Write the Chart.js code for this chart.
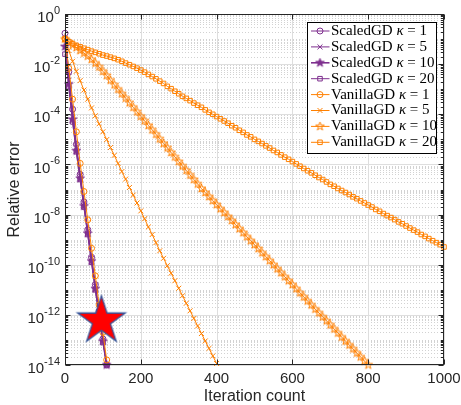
<!DOCTYPE html>
<html>
<head>
<meta charset="utf-8">
<script src="https://cdn.jsdelivr.net/npm/chart.js@4.4.1/dist/chart.umd.min.js"></script>
<style>
  html, body { margin: 0; padding: 0; background: #fff; }
  #wrap { width: 461px; height: 405px; }
</style>
</head>
<body>
<div id="wrap"><canvas id="chart" width="461" height="405"></canvas></div>
<script>
// sampled every 10 iterations (one marker per sample)
const ITER_STEP = 10;
const xTicks = [0, 200, 400, 600, 800, 1000];
const yTickExps = [0, -2, -4, -6, -8, -10, -12, -14];

const scaledK1 = [1.7e-1, 5.0e-3, 1.6e-4, 6.3e-6, 4.0e-7, 3.2e-8, 2.5e-9, 2.0e-10, 1.6e-11, 1.4e-12, 1.1e-13, 1.0e-14];
const scaledK5 = [1.0e-1, 3.2e-3, 1.1e-4, 5.0e-6, 3.5e-7, 2.8e-8, 2.2e-9, 1.8e-10, 1.4e-11, 1.26e-12, 1.0e-13, 1.0e-14];
const scaledK10 = [5.0e-2, 1.6e-3, 6.3e-5, 3.5e-6, 2.8e-7, 2.2e-8, 1.8e-9, 1.4e-10, 1.1e-11, 1.0e-12, 8.9e-14, 1.0e-14];
const scaledK20 = [2.5e-2, 1.26e-3, 5.0e-5, 3.2e-6, 2.5e-7, 2.0e-8, 1.6e-9, 1.26e-10, 1.0e-11, 8.9e-13, 7.9e-14, 1.0e-14];

const vanillaK1 = [1.0e-1, 6.8e-3, 4.0e-4, 2.0e-5, 1.1e-6, 8.3e-8, 6.2e-9, 4.5e-10, 3.6e-11, 2.5e-12, 2.0e-13, 1.6e-14];

const vanillaK5 = [
  1.0e-1, 3.5e-2, 1.3e-2, 5.2e-3, 2.2e-3, 9.3e-4, 4.0e-4, 1.8e-4, 8.7e-5, 4.2e-5,
  2.0e-5, 9.8e-6, 4.7e-6, 2.3e-6, 1.1e-6, 5.2e-7, 2.6e-7, 1.2e-7, 6.0e-8, 2.9e-8,
  1.4e-8, 6.8e-9, 3.2e-9, 1.6e-9, 7.6e-10, 3.6e-10, 1.8e-10, 9.1e-11, 4.6e-11, 2.3e-11,
  1.15e-11, 5.8e-12, 2.9e-12, 1.45e-12, 7.2e-13, 3.6e-13, 1.8e-13, 9.1e-14, 4.6e-14, 2.3e-14,
  1.15e-14
];

const vanillaK10 = [
  1.0e-1, 7.6e-2, 5.9e-2, 4.6e-2, 3.5e-2, 2.75e-2, 2.1e-2, 1.55e-2, 1.1e-2, 7.8e-3,
  5.2e-3, 3.5e-3, 2.3e-3, 1.5e-3, 1.0e-3, 6.6e-4, 4.4e-4, 2.9e-4, 1.9e-4, 1.26e-4,
  8.3e-5, 5.5e-5, 3.6e-5, 2.4e-5, 1.6e-5, 1.05e-5, 6.9e-6, 4.6e-6, 3.0e-6, 2.0e-6,
  1.3e-6, 8.7e-7, 5.8e-7, 3.8e-7, 2.5e-7, 1.66e-7, 1.1e-7, 7.6e-8, 5.2e-8, 3.6e-8,
  2.5e-8, 1.7e-8, 1.2e-8, 8.3e-9, 5.8e-9, 4.0e-9, 2.75e-9, 1.9e-9, 1.3e-9, 9.1e-10,
  6.3e-10, 4.4e-10, 3.0e-10, 2.1e-10, 1.45e-10, 1.0e-10, 6.9e-11, 4.8e-11, 3.3e-11, 2.3e-11,
  1.6e-11, 1.1e-11, 7.6e-12, 5.2e-12, 3.6e-12, 2.5e-12, 1.7e-12, 1.2e-12, 8.3e-13, 5.8e-13,
  4.0e-13, 2.75e-13, 1.9e-13, 1.3e-13, 9.1e-14, 6.3e-14, 4.4e-14, 3.0e-14, 2.1e-14, 1.45e-14,
  1.0e-14
];

const vanillaK20 = [
  1.0e-1, 7.9e-2, 6.6e-2, 5.6e-2, 4.9e-2, 4.3e-2, 3.8e-2, 3.3e-2, 2.95e-2, 2.6e-2,
  2.3e-2, 2.1e-2, 1.9e-2, 1.7e-2, 1.5e-2, 1.3e-2, 1.1e-2, 9.5e-3, 8.1e-3, 6.9e-3,
  5.8e-3, 4.8e-3, 3.9e-3, 3.2e-3, 2.6e-3, 2.1e-3, 1.7e-3, 1.3e-3, 1.05e-3, 8.3e-4,
  6.6e-4, 5.2e-4, 4.3e-4, 3.5e-4, 2.8e-4, 2.3e-4, 1.9e-4, 1.5e-4, 1.2e-4, 1.0e-4,
  8.1e-5, 6.6e-5, 5.4e-5, 4.4e-5, 3.5e-5, 2.9e-5, 2.3e-5, 1.9e-5, 1.5e-5, 1.26e-5,
  1.0e-5, 8.3e-6, 6.8e-6, 5.5e-6, 4.5e-6, 3.6e-6, 3.0e-6, 2.4e-6, 1.95e-6, 1.6e-6,
  1.3e-6, 1.05e-6, 8.5e-7, 6.9e-7, 5.6e-7, 4.6e-7, 3.7e-7, 3.0e-7, 2.5e-7, 2.0e-7,
  1.6e-7, 1.35e-7, 1.1e-7, 9.1e-8, 7.6e-8, 6.3e-8, 5.1e-8, 4.3e-8, 3.5e-8, 2.9e-8,
  2.4e-8, 2.0e-8, 1.6e-8, 1.35e-8, 1.1e-8, 9.1e-9, 7.6e-9, 6.3e-9, 5.1e-9, 4.3e-9,
  3.5e-9, 2.9e-9, 2.4e-9, 2.0e-9, 1.6e-9, 1.35e-9, 1.1e-9, 9.1e-10, 7.6e-10, 6.3e-10,
  5.1e-10
];

// the big red star
const starIter = 96;
const starErr = 5.8e-13;

const legendNames = ['ScaledGD', 'ScaledGD', 'ScaledGD', 'ScaledGD',
                     'VanillaGD', 'VanillaGD', 'VanillaGD', 'VanillaGD'];
const legendKappas = ['1', '5', '10', '20', '1', '5', '10', '20'];

const PURPLE = '#7E2F8E';
const ORANGE = '#FF8000';
const AXIS = '#262626';

function toPoints(vals) {
  return vals.map((v, i) => ({ x: i * ITER_STEP, y: v }));
}

function pentagram(r, fill, stroke, lw) {
  const pad = Math.ceil(lw) + 1;
  const size = Math.ceil(2 * r + 2 * pad);
  const c = document.createElement('canvas');
  c.width = size; c.height = size;
  const g = c.getContext('2d');
  const cx = size / 2, cy = size / 2;
  g.beginPath();
  for (let i = 0; i < 10; i++) {
    const rad = i % 2 === 0 ? r : r * 0.382;
    const a = -Math.PI / 2 + i * Math.PI / 5;
    g.lineTo(cx + rad * Math.cos(a), cy + rad * Math.sin(a));
  }
  g.closePath();
  if (fill) { g.fillStyle = fill; g.fill(); }
  if (stroke) { g.strokeStyle = stroke; g.lineWidth = lw; g.lineJoin = 'miter'; g.stroke(); }
  return c;
}

const purpleStar = pentagram(4.5, PURPLE, PURPLE, 1);
const orangeStar = pentagram(4.5, null, ORANGE, 1);
const bigStar = pentagram(25, '#FF0000', '#34549A', 1.3);

function series(label, vals, color, style, radius, width, order) {
  return {
    label,
    data: toPoints(vals),
    borderColor: color,
    borderWidth: width || 1,
    pointStyle: style,
    pointRadius: radius,
    pointBorderColor: color,
    pointBackgroundColor: 'rgba(0,0,0,0)',
    pointBorderWidth: 1,
    fill: false,
    tension: 0,
    clip: 8,
    order
  };
}

const markerDefs = [
  { color: PURPLE, style: 'circle', r: 3, lw: 1 },
  { color: PURPLE, style: 'crossRot', r: 3.5, lw: 1 },
  { color: PURPLE, style: purpleStar, r: 4.5, lw: 1.6 },
  { color: PURPLE, style: 'rect', r: 3.2, lw: 1 },
  { color: ORANGE, style: 'circle', r: 3, lw: 1 },
  { color: ORANGE, style: 'crossRot', r: 3.5, lw: 1 },
  { color: ORANGE, style: orangeStar, r: 4.5, lw: 1 },
  { color: ORANGE, style: 'rect', r: 3.2, lw: 1 }
];
const seriesVals = [scaledK1, scaledK5, scaledK10, scaledK20, vanillaK1, vanillaK5, vanillaK10, vanillaK20];

const datasets = [{
  label: 'star',
  data: [{ x: starIter, y: starErr }],
  showLine: false,
  pointStyle: bigStar,
  pointRadius: 3,
  clip: false,
  order: 0
}];
seriesVals.forEach((vals, i) => {
  const m = markerDefs[i];
  datasets.push(series(legendNames[i] + ' k=' + legendKappas[i], vals, m.color, m.style, m.r, m.lw,
    i < 4 ? 20 - i : 10 - i));
});

function drawMarker(ctx, m, x, y) {
  ctx.strokeStyle = m.color;
  ctx.lineWidth = 1;
  if (typeof m.style !== 'string') {
    ctx.drawImage(m.style, x - m.style.width / 2, y - m.style.height / 2);
    return;
  }
  ctx.beginPath();
  if (m.style === 'circle') {
    ctx.arc(x, y, m.r, 0, Math.PI * 2);
  } else if (m.style === 'rect') {
    const s = m.r * Math.SQRT1_2;
    ctx.rect(x - s, y - s, 2 * s, 2 * s);
  } else {
    const s = m.r * Math.SQRT1_2;
    ctx.moveTo(x - s, y - s); ctx.lineTo(x + s, y + s);
    ctx.moveTo(x - s, y + s); ctx.lineTo(x + s, y - s);
  }
  ctx.stroke();
}

const gridPlugin = {
  id: 'matlabGrid',
  beforeDatasetsDraw(chart) {
    const { ctx, chartArea: a, scales: { x, y } } = chart;
    ctx.save();
    ctx.lineWidth = 1;
    // minor (dotted) horizontal grid
    ctx.strokeStyle = '#d2d2d2';
    ctx.setLineDash([1, 2]);
    for (let e = -14; e < 0; e++) {
      for (let m = 1; m <= 9; m++) {
        if (m === 1 && e % 2 === 0) continue;
        const py = Math.round(y.getPixelForValue(m * Math.pow(10, e))) + 0.5;
        ctx.beginPath(); ctx.moveTo(a.left, py); ctx.lineTo(a.right, py); ctx.stroke();
      }
    }
    // major grid
    ctx.setLineDash([]);
    ctx.strokeStyle = '#dedede';
    yTickExps.forEach(e => {
      const py = Math.round(y.getPixelForValue(Math.pow(10, e))) + 0.5;
      ctx.beginPath(); ctx.moveTo(a.left, py); ctx.lineTo(a.right, py); ctx.stroke();
    });
    xTicks.forEach(v => {
      const px = Math.round(x.getPixelForValue(v)) + 0.5;
      ctx.beginPath(); ctx.moveTo(px, a.top); ctx.lineTo(px, a.bottom); ctx.stroke();
    });
    ctx.restore();
  }
};

const axesPlugin = {
  id: 'matlabAxes',
  afterDraw(chart) {
    const { ctx, chartArea: a, scales: { x, y } } = chart;
    ctx.save();
    ctx.strokeStyle = AXIS;
    ctx.lineWidth = 1;
    const L = Math.round(a.left) + 0.5, R = Math.round(a.right) - 0.5;
    const T = Math.round(a.top) + 0.5, B = Math.round(a.bottom) - 0.5;
    ctx.strokeRect(L, T, R - L, B - T);

    // y ticks on both sides, pointing in
    ctx.beginPath();
    for (let e = -14; e <= 0; e++) {
      for (let m = 1; m <= 9; m++) {
        const v = m * Math.pow(10, e);
        if (v > 1) break;
        const py = Math.round(y.getPixelForValue(v)) + 0.5;
        const len = (m === 1 && e % 2 === 0) ? 5 : 2.5;
        ctx.moveTo(L, py); ctx.lineTo(L + len, py);
        ctx.moveTo(R, py); ctx.lineTo(R - len, py);
      }
    }
    xTicks.forEach(v => {
      const px = Math.round(x.getPixelForValue(v)) + 0.5;
      ctx.moveTo(px, B); ctx.lineTo(px, B - 5);
      ctx.moveTo(px, T); ctx.lineTo(px, T + 5);
    });
    ctx.stroke();

    // tick labels
    ctx.fillStyle = AXIS;
    ctx.textAlign = 'center';
    ctx.textBaseline = 'middle';
    ctx.font = '15px "Liberation Sans", Arial, sans-serif';
    xTicks.forEach(v => ctx.fillText(String(v), x.getPixelForValue(v), 379));

    yTickExps.forEach(e => {
      const py = y.getPixelForValue(Math.pow(10, e));
      const ex = String(e);
      ctx.font = '11px "Liberation Sans", Arial, sans-serif';
      const we = ctx.measureText(ex).width;
      ctx.textAlign = 'left';
      ctx.fillText(ex, 60 - we, py - 3);
      ctx.font = '15px "Liberation Sans", Arial, sans-serif';
      ctx.textAlign = 'right';
      ctx.fillText('10', 60 - we, py + 4);
    });

    // axis titles
    ctx.font = '16px "Liberation Sans", Arial, sans-serif';
    ctx.textAlign = 'center';
    ctx.fillText('Iteration count', (a.left + a.right) / 2, 397);
    ctx.save();
    ctx.translate(15, (a.top + a.bottom) / 2);
    ctx.rotate(-Math.PI / 2);
    ctx.fillText('Relative error', 0, 0);
    ctx.restore();

    // legend box
    const bx = 307.5, by = 22.5, bw = 129, bh = 131;
    ctx.fillStyle = '#ffffff';
    ctx.fillRect(bx, by, bw, bh);
    ctx.strokeStyle = '#000000';
    ctx.strokeRect(bx, by, bw, bh);
    const up = '15px "Liberation Serif", "Times New Roman", serif';
    const it = 'italic 15px "Liberation Serif", "Times New Roman", serif';
    legendNames.forEach((name, i) => {
      const m = markerDefs[i];
      const ry = 31 + i * 15.9;
      ctx.strokeStyle = m.color;
      ctx.lineWidth = m.lw;
      ctx.beginPath(); ctx.moveTo(311, ry); ctx.lineTo(329.5, ry); ctx.stroke();
      drawMarker(ctx, m, 320, ry);
      ctx.fillStyle = '#000000';
      ctx.textAlign = 'left';
      ctx.textBaseline = 'middle';
      let tx = 331;
      ctx.font = up;
      ctx.fillText(name + ' ', tx, ry);
      tx += ctx.measureText(name + ' ').width;
      ctx.font = it;
      ctx.fillText('\u03BA', tx, ry);
      tx += ctx.measureText('\u03BA').width;
      ctx.font = up;
      ctx.fillText(' = ' + legendKappas[i], tx, ry);
    });
    ctx.restore();
  }
};

new Chart(document.getElementById('chart'), {
  type: 'line',
  data: { datasets },
  options: {
    responsive: false,
    animation: false,
    layout: { autoPadding: false, padding: { top: 14, right: 17, left: 0, bottom: 0 } },
    plugins: { legend: { display: false }, tooltip: { enabled: false } },
    scales: {
      x: {
        type: 'linear', min: 0, max: 1000,
        grid: { display: false }, border: { display: false },
        ticks: { display: false },
        afterFit(s) { s.height = 40; }
      },
      y: {
        type: 'logarithmic', min: 1e-14, max: 1,
        grid: { display: false }, border: { display: false },
        ticks: { display: false },
        afterFit(s) { s.width = 65; }
      }
    }
  },
  plugins: [gridPlugin, axesPlugin]
});
</script>
</body>
</html>
